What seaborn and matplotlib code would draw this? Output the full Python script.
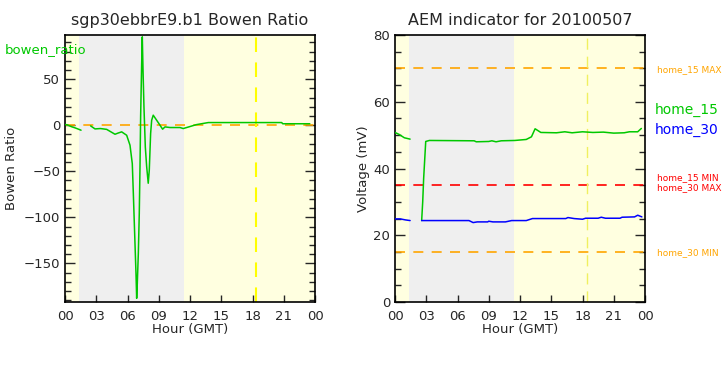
import matplotlib
matplotlib.use("Agg")
import matplotlib.pyplot as plt
from matplotlib.ticker import MultipleLocator
import seaborn as sns
import pandas as pd

sns.set_style("ticks")
plt.rcParams["font.family"] = ["DejaVu Sans"]

# Bowen ratio (two segments, gap around 01:30-02:30)
bowen_h1 = [0.0, 0.2, 0.6, 1.0, 1.54]
bowen_v1 = [0.7, 0.5, -1.5, -3.0, -5.4]
bowen_h2 = [2.46, 2.88, 3.4, 4.0, 4.8, 5.1, 5.44, 5.92, 6.24, 6.46, 6.56, 6.65,
            6.75, 6.82, 6.88, 6.94, 7.04, 7.13, 7.2, 7.26, 7.36, 7.42, 7.49,
            7.58, 7.71, 7.84, 7.99, 8.09, 8.22, 8.32, 8.47, 8.8, 9.12, 9.37,
            9.6, 10.08, 11.04, 11.35, 11.68, 12.3, 12.64, 13.76, 20.8, 20.9, 23.5]
bowen_v2 = [-0.7, -4.0, -3.6, -4.5, -9.8, -8.5, -7.2, -10.9, -21.7, -41.7, -74,
            -105, -139, -163, -188, -172, -139, -96, -45, 9, 67, 96, 60, 20,
            -23.6, -45, -63, -49, -9, 5.4, 10.9, 5.4, 0.0, -4.3, -1.8, -2.5,
            -2.5, -3.6, -2.5, -0.4, 0.7, 2.9, 2.9, 1.6, 1.6]

# AEM indicator voltages
h15_h1 = [0.0, 0.4, 0.9, 1.45]
h15_v1 = [50.8, 50.2, 49.2, 48.8]
h15_h2 = [2.56, 2.66, 2.75, 2.95, 3.3, 7.6, 7.8, 9.0, 9.3, 9.7, 10.2, 11.5,
          12.6, 13.1, 13.45, 14.0, 15.5, 16.3, 17.0, 18.0, 19.0, 20.0, 21.0,
          22.0, 22.5, 23.3, 23.65]
h15_v2 = [24.4, 30.0, 37.0, 48.1, 48.4, 48.3, 48.0, 48.1, 48.3, 48.0, 48.3,
          48.4, 48.7, 49.5, 51.9, 50.8, 50.7, 51.0, 50.7, 51.0, 50.8, 50.9,
          50.6, 50.7, 51.0, 51.0, 52.0]
h30_h1 = [0.0, 0.5, 1.0, 1.45]
h30_v1 = [24.9, 24.9, 24.6, 24.4]
h30_h2 = [2.56, 7.1, 7.5, 7.9, 8.9, 9.0, 9.4, 10.6, 11.2, 12.6, 13.2, 16.4,
          16.6, 17.2, 18.0, 18.3, 19.5, 19.8, 20.2, 21.6, 21.8, 23.0, 23.3, 23.7]
h30_v2 = [24.4, 24.4, 23.8, 24.0, 24.0, 24.2, 24.0, 24.0, 24.4, 24.4, 25.0,
          25.0, 25.3, 25.0, 24.8, 25.1, 25.1, 25.4, 25.1, 25.1, 25.4, 25.5,
          26.0, 25.5]

h15_max, h15_min, h30_max, h30_min = 70, 35, 35, 15
night_start, night_end = 1.34, 11.45
noon_left, noon_right = 18.36, 18.45

hour_ticks = list(range(0, 25, 3))
hour_labels = ["00", "03", "06", "09", "12", "15", "18", "21", "00"]

GREEN = "#00c800"
BG = "#ffffe0"
GRAY = "#efefef"

bowen = pd.DataFrame({"hour": bowen_h1 + bowen_h2,
                      "ratio": bowen_v1 + bowen_v2,
                      "seg": [0] * len(bowen_h1) + [1] * len(bowen_h2)})
h15 = pd.DataFrame({"hour": h15_h1 + h15_h2, "volt": h15_v1 + h15_v2,
                    "seg": [0] * len(h15_h1) + [1] * len(h15_h2)})
h30 = pd.DataFrame({"hour": h30_h1 + h30_h2, "volt": h30_v1 + h30_v2,
                    "seg": [0] * len(h30_h1) + [1] * len(h30_h2)})

fig = plt.figure(figsize=(7.25, 3.75), dpi=100)
ax1 = fig.add_axes([65 / 725, 73 / 375, 250 / 725, 267 / 375])
ax2 = fig.add_axes([395 / 725, 73 / 375, 250 / 725, 267 / 375])

for ax in (ax1, ax2):
    ax.set_facecolor(BG)
    ax.axvspan(night_start, night_end, color=GRAY, zorder=0, lw=0)
    for s in ax.spines.values():
        s.set_linewidth(1.2)
        s.set_color("black")
    ax.set_xlim(0, 24)
    ax.set_xticks(hour_ticks)
    ax.set_xticklabels(hour_labels)
    ax.tick_params(axis="x", direction="in", length=5, width=1, top=False,
                   labelsize=9.5, pad=6)
    ax.tick_params(axis="y", which="both", direction="in", left=True,
                   right=True, width=1, labelsize=9.5)
    ax.tick_params(axis="y", which="major", length=7)
    ax.tick_params(axis="y", which="minor", length=4)

# left panel
ax1.axhline(0, color="orange", lw=1.2, ls=(0, (6, 5)), zorder=1)
ax1.axvline(noon_left, color="yellow", lw=1.5, ls=(0, (7, 5)), zorder=1)
sns.lineplot(data=bowen, x="hour", y="ratio", units="seg", estimator=None,
             color=GREEN, lw=1.1, ax=ax1, zorder=3)
ax1.set_ylim(-192, 98)
ax1.yaxis.set_major_locator(MultipleLocator(50))
ax1.yaxis.set_minor_locator(MultipleLocator(10))
ax1.set_title("sgp30ebbrE9.b1 Bowen Ratio", fontsize=11.5, pad=7)
ax1.set_xlabel("Hour (GMT)", fontsize=9.5, labelpad=0)
ax1.set_ylabel("Bowen Ratio", fontsize=9.5, labelpad=4)
fig.text(5 / 725, 1 - 50 / 375, "bowen_ratio", color=GREEN, fontsize=9.5,
         va="center", ha="left")

# right panel
ax2.axhline(h15_max, color="orange", lw=1.2, ls=(0, (6, 5)), zorder=1)
ax2.axhline(h15_min, color="red", lw=1.2, ls=(0, (6, 5)), zorder=1)
ax2.axhline(h30_min, color="orange", lw=1.2, ls=(0, (6, 5)), zorder=1)
ax2.axvline(noon_right, color="#f0f060", lw=1, ls=(0, (8, 5)), zorder=1)
sns.lineplot(data=h15, x="hour", y="volt", units="seg", estimator=None,
             color=GREEN, lw=1.1, ax=ax2, zorder=3)
sns.lineplot(data=h30, x="hour", y="volt", units="seg", estimator=None,
             color="blue", lw=1.1, ax=ax2, zorder=3)
ax2.set_ylim(0, 80)
ax2.yaxis.set_major_locator(MultipleLocator(20))
ax2.yaxis.set_minor_locator(MultipleLocator(5))
ax2.set_title("AEM indicator for 20100507", fontsize=11.5, pad=7)
ax2.set_xlabel("Hour (GMT)", fontsize=9.5, labelpad=0)
ax2.set_ylabel("Voltage (mV)", fontsize=9.5, labelpad=2)

tx = 657 / 725
fig.text(tx, 1 - 70 / 375, "home_15 MAX", color="orange", fontsize=6.5, va="center")
fig.text(tx - 2 / 725, 1 - 110 / 375, "home_15", color=GREEN, fontsize=10, va="center")
fig.text(tx - 2 / 725, 1 - 130 / 375, "home_30", color="blue", fontsize=10, va="center")
fig.text(tx, 1 - 177.5 / 375, "home_15 MIN", color="red", fontsize=6.5, va="center")
fig.text(tx, 1 - 187.5 / 375, "home_30 MAX", color="red", fontsize=6.5, va="center")
fig.text(tx, 1 - 252.5 / 375, "home_30 MIN", color="orange", fontsize=6.5, va="center")

fig.savefig("out.png", dpi=100)
